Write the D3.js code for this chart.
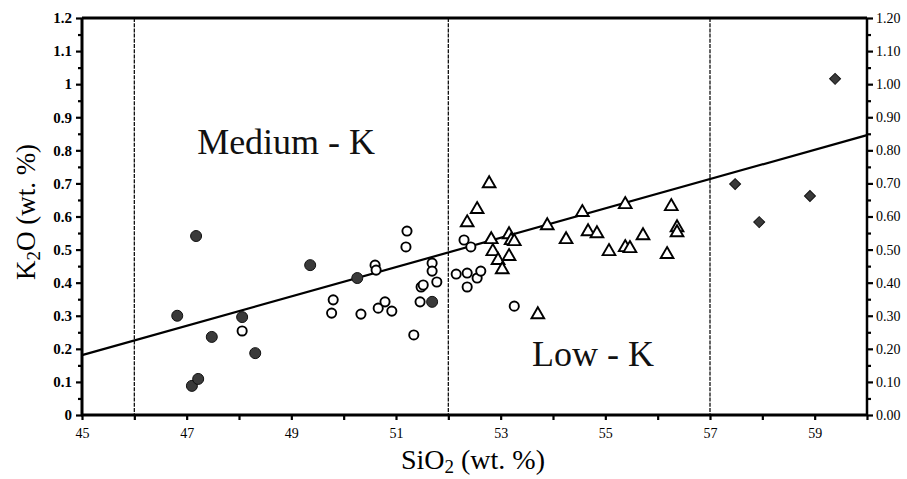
<!DOCTYPE html>
<html>
<head>
<meta charset="utf-8">
<script src="https://cdn.jsdelivr.net/npm/d3@7"></script>
<style>
  html, body { margin: 0; padding: 0; background: #fff; }
  svg { display: block; }
</style>
</head>
<body>
<svg id="chart" width="907" height="479"></svg>
<script>
// ---------------- data ----------------
const filledCircles = [
  [46.82, 0.300], [47.18, 0.541], [47.10, 0.088], [47.22, 0.109], [47.48, 0.236],
  [48.06, 0.296], [48.31, 0.187], [49.36, 0.453], [50.26, 0.414], [51.69, 0.342]
];
const openCircles = [
  [48.06, 0.254], [49.80, 0.348], [49.77, 0.308], [50.33, 0.305], [50.60, 0.453],
  [50.62, 0.438], [50.66, 0.323], [50.79, 0.342], [50.92, 0.314], [51.19, 0.508],
  [51.21, 0.556], [51.34, 0.242], [51.46, 0.342], [51.48, 0.387], [51.52, 0.393],
  [51.69, 0.459], [51.69, 0.435], [51.78, 0.402], [52.15, 0.426], [52.30, 0.529],
  [52.36, 0.429], [52.36, 0.387], [52.43, 0.508], [52.55, 0.414], [52.62, 0.435],
  [53.26, 0.329]
];
const triangles = [
  [52.78, 0.701], [52.55, 0.623], [52.36, 0.583], [52.82, 0.532], [52.85, 0.496],
  [52.95, 0.469], [53.03, 0.441], [53.16, 0.547], [53.20, 0.529], [53.26, 0.526],
  [53.16, 0.481], [53.71, 0.305], [53.89, 0.574], [54.25, 0.532], [54.56, 0.614],
  [54.67, 0.556], [54.84, 0.550], [55.07, 0.496], [55.38, 0.638], [55.38, 0.508],
  [55.47, 0.505], [55.72, 0.544], [56.26, 0.632], [56.37, 0.568], [56.37, 0.553],
  [56.18, 0.487]
];
const diamonds = [
  [59.39, 1.016], [57.48, 0.698], [58.91, 0.662], [57.94, 0.583]
];
const boundaryLine = [[45, 0.181], [60, 0.846]];
const dividers = [46, 52, 57];
const xTickValues = [45,46,47,48,49,50,51,52,53,54,55,56,57,58,59,60];
const xTickLabels = ["45","","47","","49","","51","","53","","55","","57","","59",""];
const yTickValues = [0,0.1,0.2,0.3,0.4,0.5,0.6,0.7,0.8,0.9,1.0,1.1,1.2];
const yLeftLabels = ["0","0.1","0.2","0.3","0.4","0.5","0.6","0.7","0.8","0.9","1","1.1","1.2"];
const yRightLabels = ["0.00","0.10","0.20","0.30","0.40","0.50","0.60","0.70","0.80","0.90","1.00","1.10","1.20"];
const yMinorValues = [0.05,0.15,0.25,0.35,0.45,0.55,0.65,0.75,0.85,0.95,1.05,1.15];
const regionLabels = [
  { text: "Medium - K", x: 47.2, y: 0.79 },
  { text: "Low - K", x: 53.6, y: 0.148 }
];

// ---------------- layout ----------------
const svg = d3.select("#chart");
const L = 82, R = 867, T = 18, B = 415;
const x = d3.scaleLinear().domain([45, 60]).range([L, R]);
const y = d3.scaleLinear().domain([0, 1.2]).range([B, T]);
const serif = "'Times New Roman', 'Liberation Serif', 'DejaVu Serif', Times, serif";

const g = svg.append("g");

// divider dashed verticals
g.selectAll("line.div").data(dividers).enter().append("line")
  .attr("x1", d => x(d)).attr("x2", d => x(d))
  .attr("y1", T).attr("y2", B)
  .attr("stroke", "#111").attr("stroke-width", 1.3)
  .attr("stroke-dasharray", "4,1.2");

// boundary line
g.append("path")
  .attr("d", d3.line().x(d => x(d[0])).y(d => y(d[1]))(boundaryLine))
  .attr("stroke", "#000").attr("stroke-width", 2.2).attr("fill", "none");

// axes
const xAxis = d3.axisBottom(x).tickValues(xTickValues)
  .tickFormat((d, i) => xTickLabels[i]).tickSize(5).tickPadding(8);
const yLeft = d3.axisLeft(y).tickValues(yTickValues)
  .tickFormat((d, i) => yLeftLabels[i]).tickSize(6).tickPadding(4);
const yRight = d3.axisRight(y).tickValues(yTickValues)
  .tickFormat((d, i) => yRightLabels[i]).tickSize(6).tickPadding(3);
const yLeftMinor = d3.axisLeft(y).tickValues(yMinorValues).tickFormat("").tickSize(4);
const yRightMinor = d3.axisRight(y).tickValues(yMinorValues).tickFormat("").tickSize(4);

function styleAxis(sel, bold, size) {
  sel.attr("font-family", serif).attr("font-size", size || 14);
  sel.select(".domain").remove();
  sel.selectAll(".tick line").attr("stroke", "#000").attr("stroke-width", 2.2);
  sel.selectAll(".tick text")
    .attr("font-family", serif)
    .attr("fill", "#000")
    .attr("font-weight", bold ? "bold" : "normal");
}
const gx = g.append("g").attr("transform", `translate(0,${B})`).call(xAxis);
styleAxis(gx, false, 14);
const gl = g.append("g").attr("transform", `translate(${L},0)`).call(yLeft);
styleAxis(gl, true, 15);
const gr = g.append("g").attr("transform", `translate(${R},0)`).call(yRight);
styleAxis(gr, false, 14);
styleAxis(g.append("g").attr("transform", `translate(${L},0)`).call(yLeftMinor), false);
styleAxis(g.append("g").attr("transform", `translate(${R},0)`).call(yRightMinor), false);

// frame lines
g.append("line").attr("x1", L).attr("x2", R).attr("y1", T).attr("y2", T)
  .attr("stroke", "#000").attr("stroke-width", 3);
g.append("line").attr("x1", L - 1).attr("x2", R + 1).attr("y1", B).attr("y2", B)
  .attr("stroke", "#000").attr("stroke-width", 3);
g.append("line").attr("x1", L).attr("x2", L).attr("y1", T).attr("y2", B)
  .attr("stroke", "#000").attr("stroke-width", 3);
g.append("line").attr("x1", R).attr("x2", R).attr("y1", T).attr("y2", B)
  .attr("stroke", "#000").attr("stroke-width", 2.5);

// region labels
g.selectAll("text.region").data(regionLabels).enter().append("text")
  .attr("x", d => x(d.x)).attr("y", d => y(d.y))
  .attr("font-family", serif).attr("font-size", 36).attr("fill", "#111")
  .text(d => d.text);

// markers
g.selectAll("circle.open").data(openCircles).enter().append("circle")
  .attr("cx", d => x(d[0])).attr("cy", d => y(d[1])).attr("r", 4.6)
  .attr("fill", "#fff").attr("stroke", "#000").attr("stroke-width", 1.9);
g.selectAll("circle.filled").data(filledCircles).enter().append("circle")
  .attr("cx", d => x(d[0])).attr("cy", d => y(d[1])).attr("r", 5.5)
  .attr("fill", "#3a3a3a").attr("stroke", "#111").attr("stroke-width", 1);
const tri = d3.symbol().type(d3.symbolTriangle).size(70);
g.selectAll("path.tri").data(triangles).enter().append("path")
  .attr("d", tri)
  .attr("transform", d => `translate(${x(d[0])},${y(d[1]) + 0.5})`)
  .attr("fill", "#fff").attr("stroke", "#000").attr("stroke-width", 1.9);
const dia = d3.symbol().type(d3.symbolSquare).size(60);
g.selectAll("path.dia").data(diamonds).enter().append("path")
  .attr("d", dia)
  .attr("transform", d => `translate(${x(d[0])},${y(d[1])}) rotate(45)`)
  .attr("fill", "#3a3a3a").attr("stroke", "#111").attr("stroke-width", 1);

// axis titles
const xt = svg.append("text").attr("x", 473).attr("y", 469)
  .attr("text-anchor", "middle")
  .attr("font-family", serif).attr("font-size", 28).attr("fill", "#000");
xt.append("tspan").text("SiO");
xt.append("tspan").attr("font-size", 19).attr("dy", 4).text("2");
xt.append("tspan").attr("dy", -4).text(" (wt. %)");

const yt = svg.append("text")
  .attr("transform", `translate(35,212) rotate(-90)`)
  .attr("text-anchor", "middle")
  .attr("font-family", serif).attr("font-size", 27).attr("fill", "#000");
yt.append("tspan").text("K");
yt.append("tspan").attr("font-size", 19).attr("dy", 5).text("2");
yt.append("tspan").attr("dy", -5).text("O (wt. %)");
</script>
</body>
</html>
